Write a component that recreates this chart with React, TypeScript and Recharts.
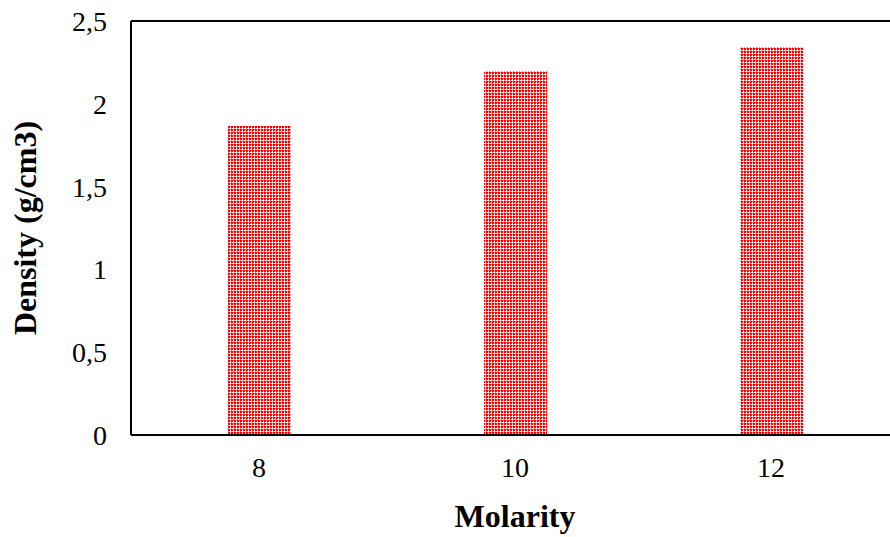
import React from 'react';
import { BarChart, Bar, XAxis, YAxis, ReferenceLine } from 'recharts';

const categories = ['8', '10', '12'];
const densityValues = [1.866, 2.198, 2.343];
const yTicks = [0, 0.5, 1, 1.5, 2, 2.5];

const data = categories.map((c, i) => ({ molarity: c, density: densityValues[i] }));

const fmt = (v: number) => String(v).replace('.', ',');

const FONT = "'Liberation Serif', 'Times New Roman', serif";

const YTitle = (props: any) => {
  const vb = props.viewBox || {};
  const cx = vb.x + 25;
  const cy = vb.y + vb.height / 2;
  return (
    <text
      x={cx}
      y={cy}
      transform={`rotate(-90, ${cx}, ${cy})`}
      textAnchor="middle"
      dominantBaseline="central"
      fontFamily={FONT}
      fontWeight="bold"
      fontSize={32}
      fill="#000"
    >
      Density (g/cm3)
    </text>
  );
};

export default function App() {
  return (
    <div style={{ position: 'absolute', left: 0, top: 0, width: 890, height: 537, overflow: 'hidden', background: '#fff' }}>
      <BarChart
        width={900}
        height={537}
        data={data}
        margin={{ top: 21, right: 1, bottom: 2, left: 0 }}
        barCategoryGap={0}
      >
        <defs>
          <pattern id="redDots" x="0" y="0" width="3" height="3" patternUnits="userSpaceOnUse">
            <rect x="0" y="0" width="3" height="3" fill="#ffffff" shapeRendering="crispEdges" />
            <rect x="0" y="0" width="2" height="2" fill="#ff0000" shapeRendering="crispEdges" />
            <rect x="2" y="0" width="1" height="1" fill="#ff8080" shapeRendering="crispEdges" />
            <rect x="0" y="2" width="1" height="1" fill="#ff8080" shapeRendering="crispEdges" />
          </pattern>
        </defs>
        <XAxis
          dataKey="molarity"
          axisLine={{ stroke: '#000', strokeWidth: 2 }}
          tickLine={false}
          tickSize={0}
          tickMargin={22}
          height={100}
          tick={{ fill: '#000', fontSize: 28, fontFamily: FONT }}
          label={{
            value: 'Molarity',
            position: 'insideBottom',
            offset: 8,
            fill: '#000',
            fontSize: 32,
            fontWeight: 'bold',
            fontFamily: FONT,
          }}
        />
        <YAxis
          width={131}
          domain={[0, 2.5]}
          ticks={yTicks}
          tickFormatter={fmt}
          axisLine={{ stroke: '#000', strokeWidth: 2 }}
          tickLine={false}
          tickSize={0}
          tickMargin={24}
          tick={{ fill: '#000', fontSize: 28, fontFamily: FONT }}
          label={<YTitle />}
        />
        <ReferenceLine y={2.5} stroke="#000" strokeWidth={2} ifOverflow="visible" />
        <Bar dataKey="density" fill="url(#redDots)" barSize={63} isAnimationActive={false} />
      </BarChart>
    </div>
  );
}
